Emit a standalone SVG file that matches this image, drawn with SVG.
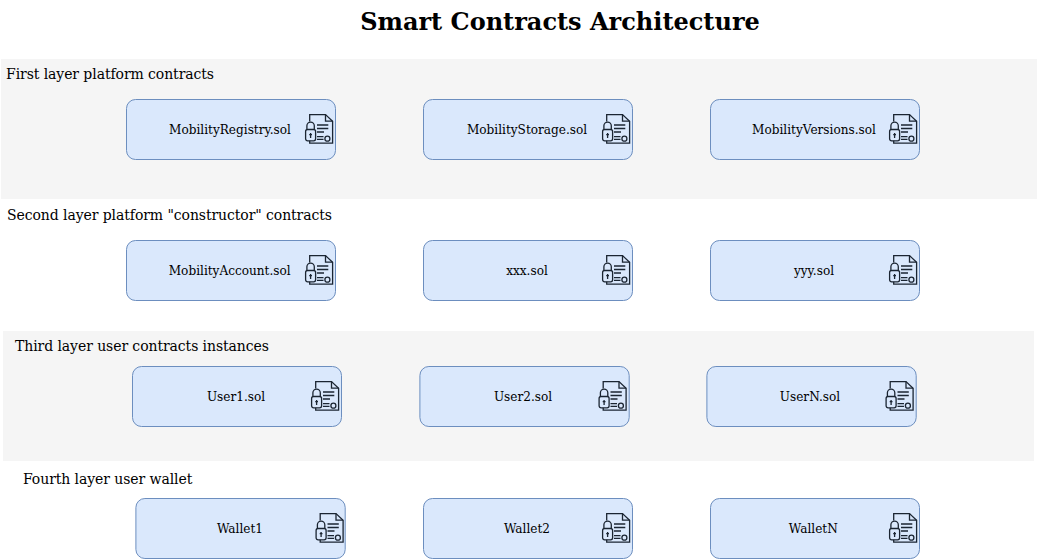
<svg xmlns="http://www.w3.org/2000/svg" width="1038" height="559" viewBox="0 0 1038 559">
<style>
text{font-family:"DejaVu Serif",serif;fill:#000}
.title{font-size:24px;font-weight:bold;text-anchor:middle}
.layer{font-size:14px;letter-spacing:-0.08px}
.band{fill:#f5f5f5}
.box{fill:#dae8fc;stroke:#6c8ebf;stroke-width:1}
.label{font-size:12.1px;text-anchor:middle}
.ic{fill:none;stroke:#1b2532;stroke-width:1.3}
</style>
<defs>
<g id="lock">
<path class="ic" d="M4.700 7.500V0.600H20.500L27.600 7.200V29.200H4.700V26.800"/>
<path class="ic" d="M20.500 0.600V7.200H27.600"/>
<path class="ic" d="M12 11H23.300M12 14.500H23.300M12 18H19M12 22.700H18.500M12 25.300H18.500"/>
<circle class="ic" cx="22.400" cy="24.700" r="2.500"/>
<rect class="ic" x="0.600" y="15.500" width="10" height="11.300" rx="2"/>
<path class="ic" d="M1.900 15.500V11.800A3.600 3.600 0 0 1 9.300 11.800V15.500M5.600 19V24M4.200 20.700H7"/>
</g>
</defs>
<rect class="band" x="1" y="59" width="1036" height="140"/>
<rect class="band" x="3" y="331" width="1031" height="130"/>
<text class="title" x="560" y="30">Smart Contracts Architecture</text>
<text class="layer" x="6" y="79">First layer platform contracts</text>
<text class="layer" x="7" y="220">Second layer platform "constructor" contracts</text>
<text class="layer" x="15" y="351">Third layer user contracts instances</text>
<text class="layer" x="23" y="484">Fourth layer user wallet</text>
<g id="node-mobility-registry"><rect class="box" x="126.500" y="99.500" width="209" height="60" rx="9"/><text class="label" x="230" y="134">MobilityRegistry.sol</text><use href="#lock" x="305" y="114"/></g>
<g id="node-mobility-storage"><rect class="box" x="423.500" y="99.500" width="209" height="60" rx="9"/><text class="label" x="527" y="134">MobilityStorage.sol</text><use href="#lock" x="602" y="114"/></g>
<g id="node-mobility-versions"><rect class="box" x="710.500" y="99.500" width="209" height="60" rx="9"/><text class="label" x="814" y="134">MobilityVersions.sol</text><use href="#lock" x="889" y="114"/></g>
<g id="node-mobility-account"><rect class="box" x="126.500" y="240.500" width="209" height="60" rx="9"/><text class="label" x="229.700" y="275">MobilityAccount.sol</text><use href="#lock" x="305" y="255"/></g>
<g id="node-xxx"><rect class="box" x="423.500" y="240.500" width="209" height="60" rx="9"/><text class="label" x="527" y="275">xxx.sol</text><use href="#lock" x="602" y="255"/></g>
<g id="node-yyy"><rect class="box" x="710.500" y="240.500" width="209" height="60" rx="9"/><text class="label" x="814" y="275">yyy.sol</text><use href="#lock" x="889" y="255"/></g>
<g id="node-user1"><rect class="box" x="132.500" y="366.500" width="209" height="60" rx="9"/><text class="label" x="236" y="401">User1.sol</text><use href="#lock" x="311" y="381"/></g>
<g id="node-user2"><rect class="box" x="419.900" y="366.500" width="209.300" height="60" rx="9"/><text class="label" x="523" y="401">User2.sol</text><use href="#lock" x="598.500" y="381"/></g>
<g id="node-usern"><rect class="box" x="706.900" y="366.500" width="209.300" height="60" rx="9"/><text class="label" x="810" y="401">UserN.sol</text><use href="#lock" x="885.500" y="381"/></g>
<g id="node-wallet1"><rect class="box" x="135.900" y="498.500" width="209.300" height="60" rx="9"/><text class="label" x="240" y="533">Wallet1</text><use href="#lock" x="315.500" y="513"/></g>
<g id="node-wallet2"><rect class="box" x="423.500" y="498.500" width="209" height="60" rx="9"/><text class="label" x="527" y="533">Wallet2</text><use href="#lock" x="602" y="513"/></g>
<g id="node-walletn"><rect class="box" x="710.500" y="498.500" width="209" height="60" rx="9"/><text class="label" x="813.300" y="533">WalletN</text><use href="#lock" x="889" y="513"/></g>
<g id="connectors"></g>
</svg>
